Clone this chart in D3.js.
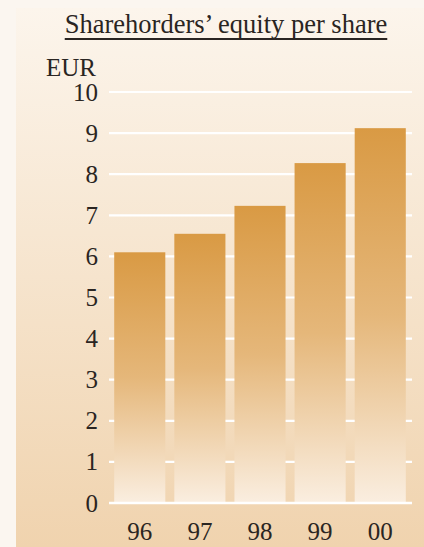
<!DOCTYPE html>
<html>
<head>
<meta charset="utf-8">
<script src="https://cdn.jsdelivr.net/npm/d3@7"></script>
<style>
  body { margin: 0; background: #fbf6f0; }
  svg { display: block; }
</style>
</head>
<body>
<div id="chart"></div>
<script>
var years = ["96", "97", "98", "99", "00"];
var equity = [6.1, 6.55, 7.23, 8.27, 9.12];
var yTicks = [0, 1, 2, 3, 4, 5, 6, 7, 8, 9, 10];

var svgWidth = 424;
var svgHeight = 547;

var svg = d3.select("#chart")
  .append("svg")
  .attr("width", svgWidth)
  .attr("height", svgHeight);

var defs = svg.append("defs");

// panel background, light at top, peach at bottom
var bg = defs.append("linearGradient")
  .attr("id", "bg")
  .attr("x1", 0).attr("y1", 0).attr("x2", 0).attr("y2", 1);
bg.append("stop").attr("offset", "0%").attr("stop-color", "#fcf5ec");
bg.append("stop").attr("offset", "100%").attr("stop-color", "#f0d3ae");

// bar fill, orange at top fading to cream
var barGrad = defs.append("linearGradient")
  .attr("id", "bar")
  .attr("x1", 0).attr("y1", 0).attr("x2", 0).attr("y2", 1);
barGrad.append("stop").attr("offset", "0%").attr("stop-color", "#d99a44");
barGrad.append("stop").attr("offset", "50%").attr("stop-color", "#e5b77a");
barGrad.append("stop").attr("offset", "100%").attr("stop-color", "#faeee0");

svg.append("rect")
  .attr("x", 16)
  .attr("y", 8)
  .attr("width", svgWidth - 16)
  .attr("height", svgHeight - 8)
  .attr("fill", "url(#bg)");

var x = d3.scaleBand()
  .domain(years)
  .range([110, 410])
  .paddingInner(0.15)
  .paddingOuter(0.07);

var y = d3.scaleLinear()
  .domain([0, 10])
  .range([503, 92]);

var font = "'Liberation Serif', 'DejaVu Serif', serif";

// gridlines
svg.append("g")
  .selectAll("line")
  .data(yTicks.filter(d => d > 0))
  .enter()
  .append("line")
  .attr("x1", 109)
  .attr("x2", 412)
  .attr("y1", d => y(d))
  .attr("y2", d => y(d))
  .attr("stroke", "#ffffff")
  .attr("stroke-width", 2.2);

// bars
svg.append("g")
  .selectAll("rect")
  .data(equity)
  .enter()
  .append("rect")
  .attr("x", (d, i) => x(years[i]))
  .attr("y", d => y(d))
  .attr("width", x.bandwidth())
  .attr("height", d => y(0) - y(d))
  .attr("fill", "url(#bar)");

// baseline
svg.append("line")
  .attr("x1", 109)
  .attr("x2", 412)
  .attr("y1", y(0))
  .attr("y2", y(0))
  .attr("stroke", "#ffffff")
  .attr("stroke-width", 2.5);

// y tick labels
svg.append("g")
  .selectAll("text")
  .data(yTicks)
  .enter()
  .append("text")
  .attr("x", 98)
  .attr("y", d => y(d))
  .attr("dy", "0.34em")
  .attr("text-anchor", "end")
  .attr("font-family", font)
  .attr("font-size", "25px")
  .attr("fill", "#2a2522")
  .text(d => d);

// x labels
svg.append("g")
  .selectAll("text")
  .data(years)
  .enter()
  .append("text")
  .attr("x", d => x(d) + x.bandwidth() / 2)
  .attr("y", 540)
  .attr("text-anchor", "middle")
  .attr("font-family", font)
  .attr("font-size", "25px")
  .attr("fill", "#2a2522")
  .text(d => d);

// unit
svg.append("text")
  .attr("x", 46)
  .attr("y", 76)
  .attr("font-family", font)
  .attr("font-size", "25px")
  .attr("fill", "#2a2522")
  .text("EUR");

// title, underlined
var title = svg.append("text")
  .attr("x", 226)
  .attr("y", 33)
  .attr("text-anchor", "middle")
  .attr("font-family", font)
  .attr("font-size", "26.5px")
  .attr("fill", "#2a2522")
  .text("Sharehorders\u2019 equity per share");

var tb = title.node().getBBox();
svg.append("line")
  .attr("x1", tb.x)
  .attr("x2", tb.x + tb.width)
  .attr("y1", 39)
  .attr("y2", 39)
  .attr("stroke", "#2a2522")
  .attr("stroke-width", 2);
</script>
</body>
</html>
